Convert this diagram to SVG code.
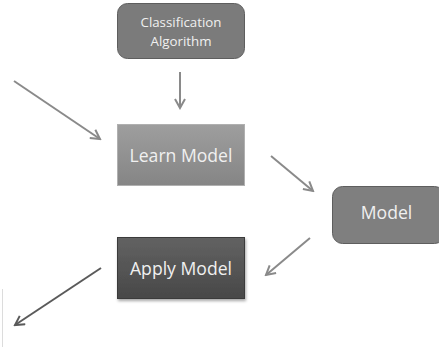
<svg xmlns="http://www.w3.org/2000/svg" width="439" height="347" viewBox="0 0 439 347">
  <style>
    .lbl { font-family: "Open Sans", "Liberation Sans", sans-serif; fill: #f0f0f0; text-anchor: middle; }
    .small { font-size: 13.3px; }
    .big { font-size: 17.6px; }
    .edge { fill: none; stroke: #8a8a8a; stroke-width: 2; }
    .edge.dark { stroke: #5a5a5a; }
  </style>
  <defs>
    <marker id="chev" viewBox="0 0 12 12" refX="10" refY="6" markerWidth="12" markerHeight="12" markerUnits="userSpaceOnUse" orient="auto">
      <path d="M1,1 L10,6 L1,11" fill="none" stroke="#8a8a8a" stroke-width="2"/>
    </marker>
    <marker id="chevDark" viewBox="0 0 12 12" refX="10" refY="6" markerWidth="12" markerHeight="12" markerUnits="userSpaceOnUse" orient="auto">
      <path d="M1,1 L10,6 L1,11" fill="none" stroke="#5a5a5a" stroke-width="2"/>
    </marker>
    <linearGradient id="gLearn" x1="0" y1="0" x2="0" y2="1">
      <stop offset="0" stop-color="#9e9e9e"/>
      <stop offset="1" stop-color="#858585"/>
    </linearGradient>
    <linearGradient id="gApply" x1="0" y1="0" x2="0" y2="1">
      <stop offset="0" stop-color="#626262"/>
      <stop offset="1" stop-color="#484848"/>
    </linearGradient>
    <filter id="shadow" x="-10%" y="-10%" width="130%" height="140%">
      <feDropShadow dx="1" dy="2" stdDeviation="1.5" flood-color="#000" flood-opacity="0.35"/>
    </filter>
  </defs>

  <!-- faint frame edge at left -->
  <line x1="2.5" y1="289" x2="2.5" y2="347" stroke="#dcdcdc" stroke-width="1"/>

  <g id="connectors">
    <line class="edge" x1="180" y1="72" x2="180" y2="108" marker-end="url(#chev)"/>
    <line class="edge" x1="14" y1="81" x2="100" y2="139" marker-end="url(#chev)"/>
    <line class="edge" x1="271" y1="156" x2="313" y2="191" marker-end="url(#chev)"/>
    <line class="edge" x1="310" y1="238" x2="266" y2="275" marker-end="url(#chev)"/>
    <line class="edge dark" x1="101" y1="268" x2="15" y2="325" marker-end="url(#chevDark)"/>
  </g>

  <g id="classification-algorithm">
    <rect x="117.5" y="3.5" width="127" height="55" rx="10" fill="#7b7b7b" stroke="#5e5e5e" stroke-width="1"/>
    <text class="lbl small" x="181" y="26.5">Classification</text>
    <text class="lbl small" x="181" y="45.5">Algorithm</text>
  </g>

  <g id="learn-model">
    <rect x="117.5" y="124.5" width="127" height="61" fill="url(#gLearn)" stroke="#b0b0b0" stroke-width="1"/>
    <text class="lbl big" x="181" y="161.5">Learn Model</text>
  </g>

  <g id="model">
    <rect x="332.5" y="186.5" width="112" height="57" rx="10" fill="#7f7f7f" stroke="#5e5e5e" stroke-width="1"/>
    <text class="lbl big" x="386.5" y="218.5">Model</text>
  </g>

  <g id="apply-model">
    <rect x="117.5" y="237.5" width="127" height="61" fill="url(#gApply)" stroke="#3a3a3a" stroke-width="1" filter="url(#shadow)"/>
    <text class="lbl big" x="181" y="275">Apply Model</text>
  </g>
</svg>
